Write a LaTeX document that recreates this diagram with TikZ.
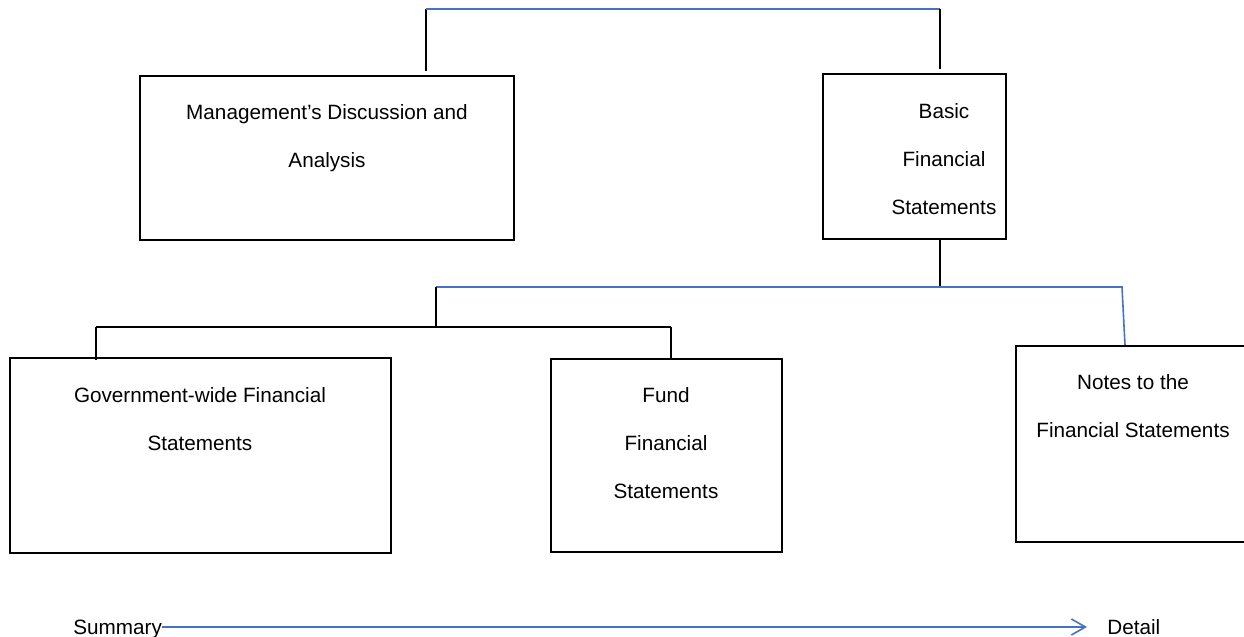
\documentclass[tikz,border=0pt]{standalone}
\usepackage{fontspec}
\setmainfont{Liberation Sans}
\usetikzlibrary{arrows.meta}
\definecolor{lineblue}{HTML}{4472C4}
\tikzset{
  boxnode/.style={draw=black, rectangle, line width=1pt, inner sep=0pt},
  txtnode/.style={anchor=north, align=center, inner sep=0pt, font=\fontsize{10.35}{24}\selectfont},
  endnode/.style={anchor=base west, inner sep=0pt, font=\fontsize{10.35}{24}\selectfont},
  blk/.style={draw=black, line width=1pt},
  blu/.style={draw=lineblue, line width=0.8pt},
}

\begin{document}
\begin{tikzpicture}[x=0.5pt, y=-0.5pt]
\useasboundingbox (0,0) rectangle (1244,637);

%% boxes: name / centre x / centre y / width / height
\foreach \Name/\Cx/\Cy/\W/\H in {%
     mda/327/158/187/82,
     basic/914.5/156.5/91.5/82.5,
     gov/200.5/455.5/190.5/97.5,
     fund/666.5/455.5/115.5/96.5,
     notes/1138/444/122/98
    }{
  \node[boxnode, minimum width=\W pt, minimum height=\H pt] (\Name) at (\Cx,\Cy) {};
}

%% texts inside the boxes
\node[txtnode] (mdaTxt)   at (327,104)  {Management’s Discussion and\\Analysis};
\node[txtnode] (basicTxt) at (944,103)  {Basic\\Financial\\Statements};
\node[txtnode] (govTxt)   at (200,387)  {Government-wide Financial\\Statements};
\node[txtnode] (fundTxt)  at (666,387)  {Fund\\Financial\\Statements};
\node[txtnode] (notesTxt) at (1133,374) {Notes to the\\Financial Statements};

%% top bracket
\coordinate (topL) at (426,9);
\coordinate (topR) at (940,9);
\draw[blk] ([yshift=2pt] mda.north -| topL) -- (topL);
\draw[blu] (topL) -- (topR);
\draw[blk] (topR) -- ([yshift=2pt] basic.north -| topR);

%% below basic statements
\coordinate (midR) at (940,287);
\coordinate (midL) at (436,287);
\coordinate (midN) at (1122,287);
\draw[blk] (basic.south -| midR) -- (midR);
\draw[blu] (midL) -- (midN) -- ([xshift=1.5pt] notes.north -| midN);

\coordinate (lowM) at (436,327);
\coordinate (lowL) at (96,327);
\coordinate (lowR) at (671,327);
\draw[blk] (midL) -- (lowM);
\draw[blk] (lowL) -- (lowR);
\draw[blk] (lowL) -- ([yshift=-1.5pt] gov.north -| lowL);
\draw[blk] (lowR) -- (fund.north -| lowR);

%% summary -> detail
\node[endnode] (sum) at (73,634) {Summary};
\node[endnode] (det) at (1107,634) {Detail};
\coordinate (arrEnd) at (1087,627);
\draw[blu, -{Straight Barb[length=7pt, width=8pt]}] (sum.east |- arrEnd) -- (arrEnd);
\end{tikzpicture}
\end{document}
